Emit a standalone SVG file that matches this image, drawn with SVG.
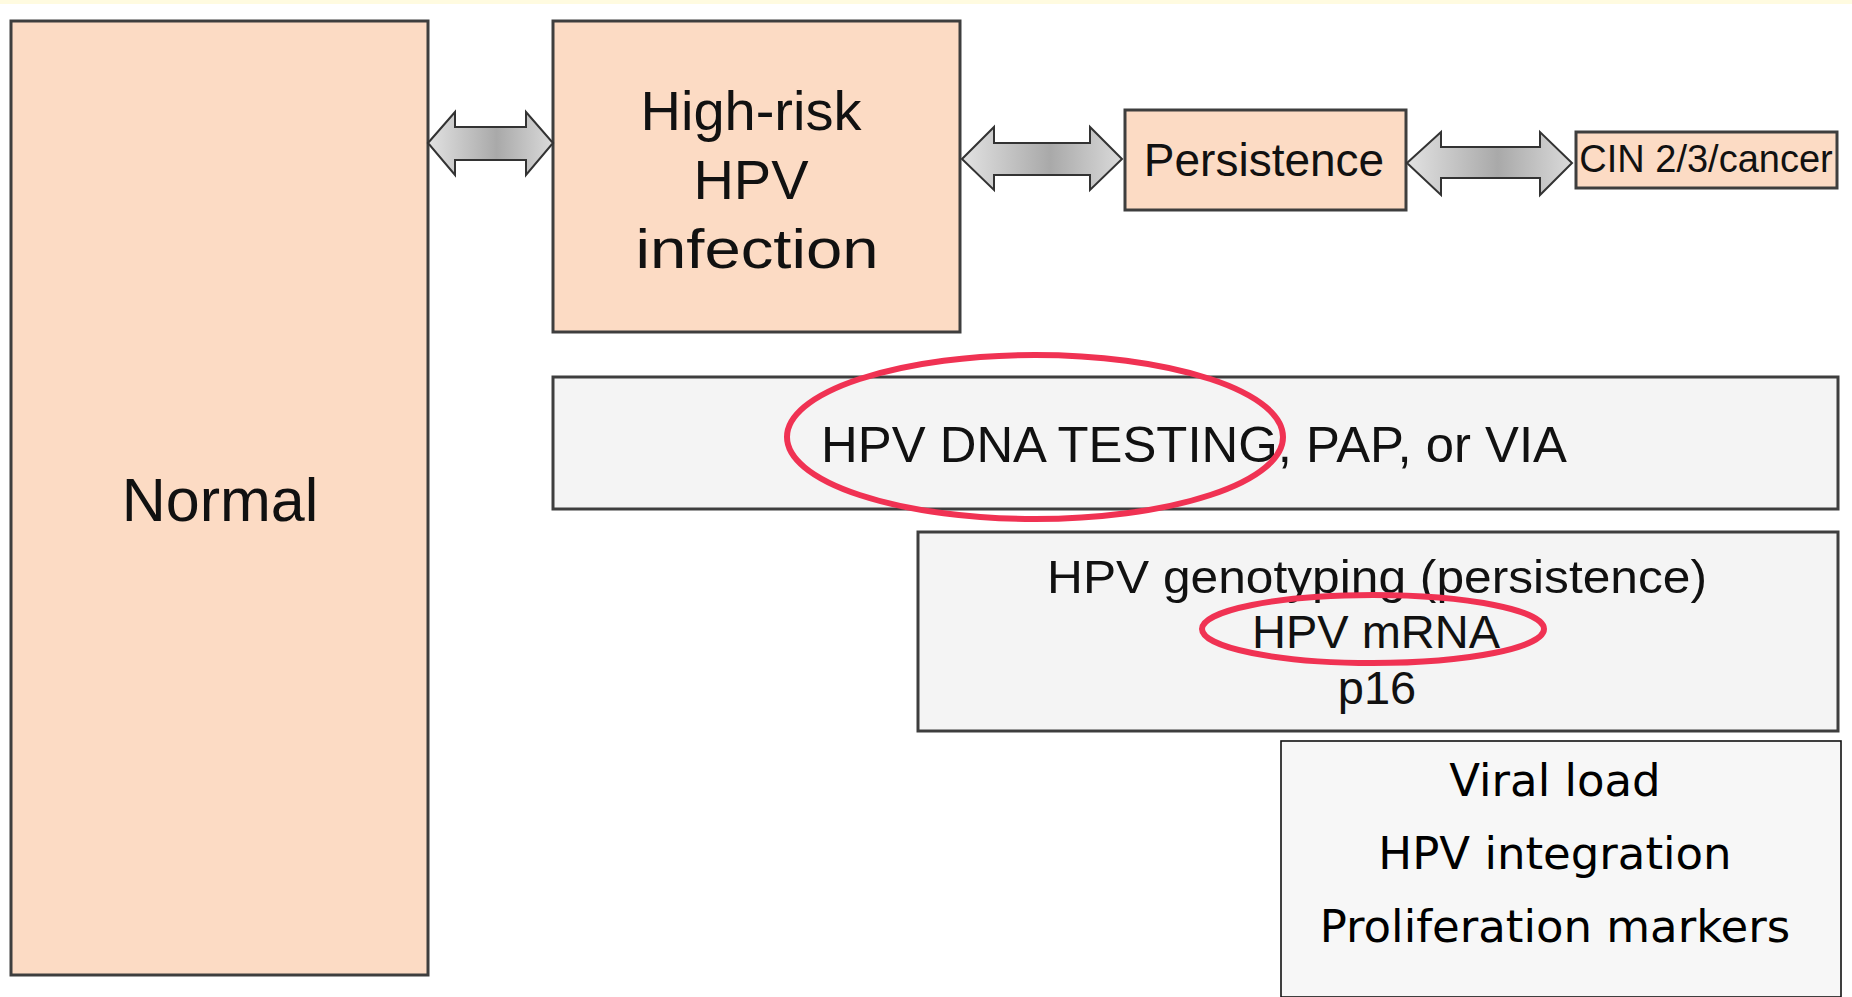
<svg xmlns="http://www.w3.org/2000/svg" width="1852" height="997" viewBox="0 0 1852 997">
<defs>
<linearGradient id="arrowGrad" x1="0" y1="0" x2="1" y2="0">
<stop offset="0" stop-color="#e2e2e2"/>
<stop offset="0.55" stop-color="#a9a9a9"/>
<stop offset="1" stop-color="#dadada"/>
</linearGradient>
<style>
.peach{fill:#fcdbc4;stroke:#3e3e3e;stroke-width:3}
.grey{fill:#f4f4f4;stroke:#3e3e3e;stroke-width:3}
.plain{fill:#f7f7f7;stroke:#111;stroke-width:1.6}
.t{font-family:"Liberation Sans",Arial,sans-serif;fill:#111;text-anchor:middle}
.c{font-family:"DejaVu Sans",sans-serif;fill:#000;text-anchor:middle;font-size:45px}
.arrow{fill:url(#arrowGrad);stroke:#333;stroke-width:2;stroke-linejoin:miter}
.mark{fill:none;stroke:#f03253;stroke-width:6}
</style>
</defs>
<rect x="0" y="0" width="1852" height="997" fill="#ffffff"/>
<rect x="0" y="0" width="1852" height="4" fill="#fffbe0"/>

<g id="normal">
<rect class="peach" x="11" y="21" width="417" height="954"/>
<text class="t" x="220" y="521" font-size="61">Normal</text>
</g>

<g id="high-risk">
<rect class="peach" x="553" y="21" width="407" height="311"/>
<text class="t" x="751" y="130" font-size="56">High-risk</text>
<text class="t" x="751" y="199" font-size="56">HPV</text>
<text class="t" x="757" y="268" font-size="56" textLength="243" lengthAdjust="spacingAndGlyphs">infection</text>
</g>

<g id="persistence">
<rect class="peach" x="1125" y="110" width="281" height="100"/>
<text class="t" x="1264" y="176" font-size="46">Persistence</text>
</g>

<g id="cin">
<rect class="peach" x="1576" y="132" width="261" height="56"/>
<text class="t" x="1706" y="172" font-size="38">CIN 2/3/cancer</text>
</g>

<g id="connectors">
<polygon class="arrow" points="428,143 455,112 455,127 526,127 526,112 553,143 526,175 526,160 455,160 455,175"/>
<polygon class="arrow" points="962,159 994,127 994,143 1090,143 1090,127 1122,159 1090,190 1090,175 994,175 994,190"/>
<polygon class="arrow" points="1407,163 1441,132 1441,147 1540,147 1540,132 1572,163 1540,195 1540,178 1441,178 1441,195"/>
</g>

<g id="screening">
<rect class="grey" x="553" y="377" width="1285" height="132"/>
<text class="t" x="1194" y="462" font-size="50" textLength="746" lengthAdjust="spacingAndGlyphs">HPV DNA TESTING, PAP, or VIA</text>
</g>

<g id="triage">
<rect class="grey" x="918" y="532" width="920" height="199"/>
<text class="t" x="1377" y="593" font-size="47" textLength="660" lengthAdjust="spacingAndGlyphs">HPV genotyping (persistence)</text>
<text class="t" x="1376" y="648" font-size="47">HPV mRNA</text>
<text class="t" x="1377" y="704" font-size="47">p16</text>
</g>

<g id="markers">
<rect class="plain" x="1281" y="741" width="560" height="256"/>
<text class="c" x="1555" y="796">Viral load</text>
<text class="c" x="1555" y="869">HPV integration</text>
<text class="c" x="1555" y="942" font-size="46">Proliferation markers</text>
</g>

<g id="highlights">
<ellipse class="mark" cx="1035" cy="437" rx="248" ry="82"/>
<ellipse class="mark" cx="1373" cy="629" rx="171" ry="34"/>
</g>
</svg>
